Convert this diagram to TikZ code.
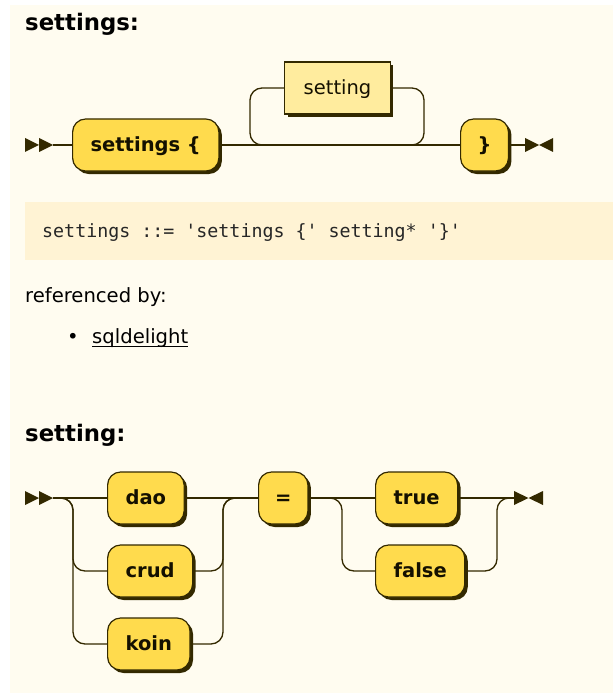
\documentclass[tikz,border=0pt]{standalone}
\usepackage{fontspec}
\setmainfont{DejaVu Sans}
\setmonofont{DejaVu Sans Mono}
\usetikzlibrary{shadows}

\definecolor{pagebg}{HTML}{FFFCF0}
\definecolor{codebg}{HTML}{FFF3D4}
\definecolor{rrline}{HTML}{332900}
\definecolor{termfill}{HTML}{FFDB4D}
\definecolor{ntfill}{HTML}{FFEC9E}
\definecolor{termtext}{HTML}{141000}

\tikzset{
  terminal/.style={draw=rrline, line width=1.2pt, fill=termfill,
    rounded corners=13pt, minimum height=52pt, inner xsep=18pt, inner ysep=0pt,
    text height=13pt, text depth=0pt, text=termtext,
    font=\fontsize{19.5}{22}\selectfont\bfseries,
    drop shadow={shadow xshift=3pt, shadow yshift=-3pt, fill=rrline, opacity=1}},
  nonterminal/.style={terminal, sharp corners, fill=ntfill, inner xsep=19pt,
    font=\fontsize{19.5}{22}\selectfont},
  rr/.style={draw=rrline, line width=1.3pt},
  rc/.style={rr, rounded corners=12pt},
  heading/.style={inner sep=0pt, anchor=base west, text=black,
    font=\fontsize{22.8}{26}\selectfont\bfseries},
  bodytext/.style={inner sep=0pt, anchor=base west, text=black,
    font=\fontsize{19.6}{23}\selectfont},
  codetext/.style={inner sep=0pt, anchor=base west, text=black!85,
    font=\fontsize{18.3}{22}\selectfont\ttfamily},
}

\begin{document}
\begin{tikzpicture}[x=1pt,y=-1pt]
  \useasboundingbox (0,0) rectangle (613,695);
  % page and code panel
  \fill[white] (0,0) rectangle (613,695);
  \fill[pagebg] (10,5) rectangle (613,693);
  \fill[codebg] (25,202) rectangle (613,260);

  % ---------- settings ----------
  \node[heading] (h1) at (25,31) {settings:};

  \fill[rrline] (25,138) -- (39,145) -- (25,152) -- cycle;
  \fill[rrline] (39,138) -- (53,145) -- (39,152) -- cycle;
  \coordinate (s1) at (53,145);
  \coordinate (e1) at (525,145);
  \fill[rrline] (525,138) -- (539,145) -- (525,152) -- cycle;
  \fill[rrline] (553,138) -- (539,145) -- (553,152) -- cycle;

  \node[terminal, anchor=west] (kw) at (72,145) {settings \{};
  \node[terminal, anchor=west, inner xsep=17pt] (rb) at (460,145) {\}};
  \node[nonterminal] (st) at (337.5,88) {setting};

  \draw[rr] (s1) -- (kw.west);
  \draw[rr] (kw.east) -- (rb.west);
  \draw[rc] (st.west) -| (250,145) -- (rb.west);
  \draw[rc] (st.east) -| (424,145) -- (kw.east);
  \draw[rr] (rb.east) -- (e1);

  % grammar line and references
  \node[codetext] (code) at (42,237) {settings ::= 'settings \{' setting* '\}'};
  \node[bodytext] (ref) at (25,302) {referenced by:};
  \node[bodytext, anchor=base] (bul) at (73,343) {•};
  \node[bodytext] (sq) at (92,343) {sqldelight};
  \draw[line width=1pt, black] ([yshift=-3.5pt]sq.base west) -- ([yshift=-3.5pt]sq.base east);

  % ---------- setting ----------
  \node[heading] (h2) at (25,441) {setting:};

  \fill[rrline] (25,491) -- (39,498) -- (25,505) -- cycle;
  \fill[rrline] (39,491) -- (53,498) -- (39,505) -- cycle;
  \coordinate (s2) at (53,498);
  \coordinate (e2) at (514,498);
  \fill[rrline] (514,491) -- (528.5,498) -- (514,505) -- cycle;
  \fill[rrline] (543,491) -- (528.5,498) -- (543,505) -- cycle;

  \node[terminal, anchor=west] (dao) at (107,498) {dao};
  \node[terminal, anchor=west] (crud) at (107,571) {crud};
  \node[terminal, anchor=west] (koin) at (107,644) {koin};
  \node[terminal, anchor=west, inner xsep=16.5pt] (eq) at (258,498) {=};
  \node[terminal, anchor=west] (tru) at (375,498) {true};
  \node[terminal, anchor=west] (fal) at (375,571) {false};

  \draw[rr] (s2) -- (dao.west);
  \draw[rc] (s2) -| (73,571) -- (crud.west);
  \draw[rc] (s2) -| (73,644) -- (koin.west);
  \draw[rr] (dao.east) -- (eq.west);
  \draw[rc] (crud.east) -| (223,498) -- (eq.west);
  \draw[rc] (koin.east) -| (223,498) -- (eq.west);
  \draw[rr] (eq.east) -- (tru.west);
  \draw[rc] (eq.east) -| (342,571) -- (fal.west);
  \draw[rr] (tru.east) -- (e2);
  \draw[rc] (fal.east) -| (497,498) -- (e2);
\end{tikzpicture}
\end{document}
